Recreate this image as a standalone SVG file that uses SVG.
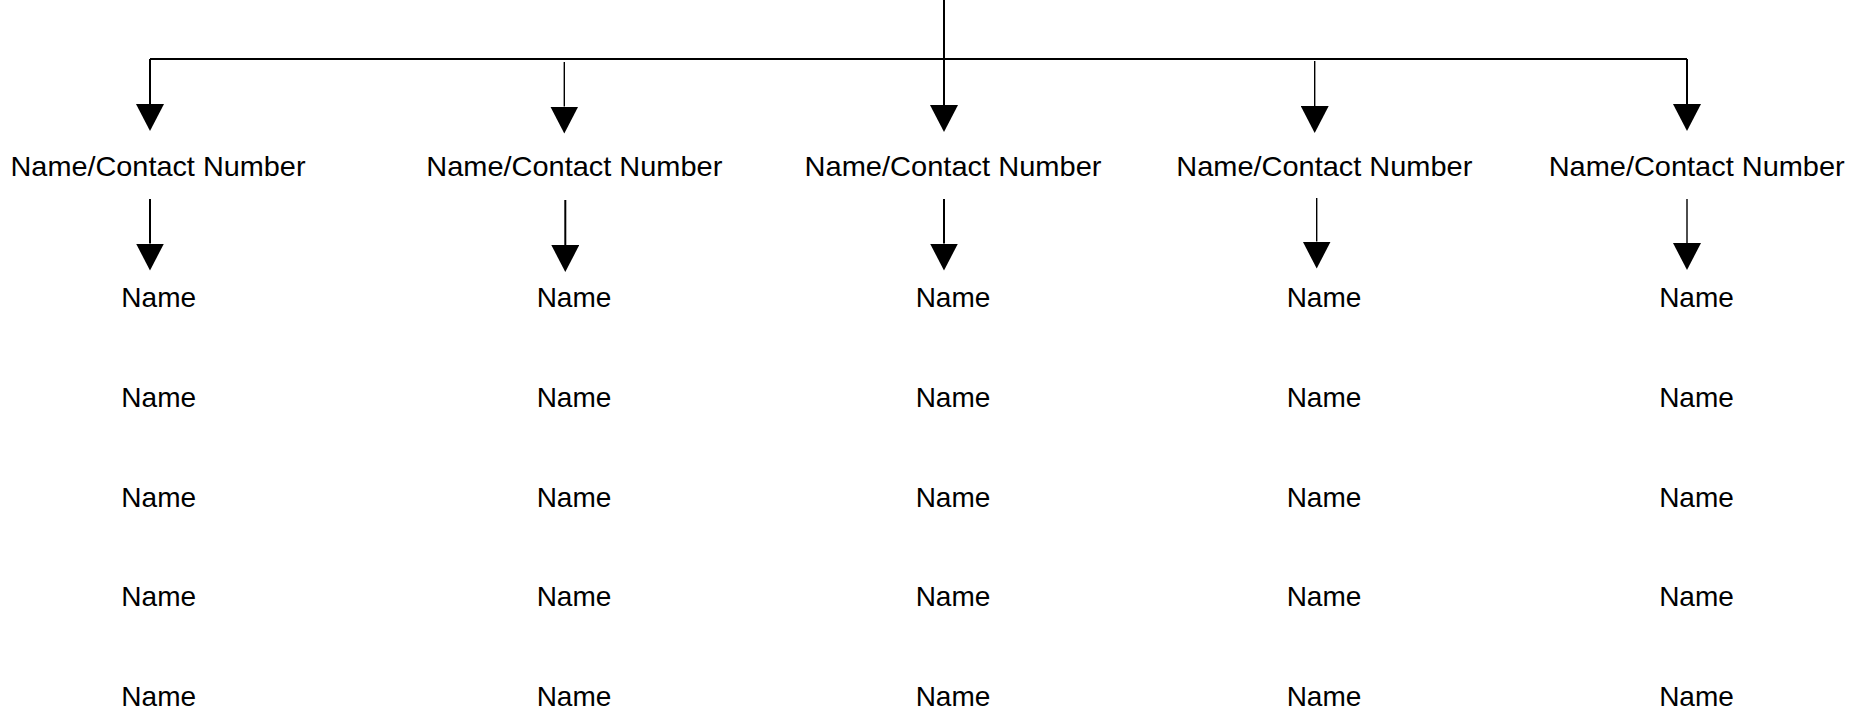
<svg xmlns="http://www.w3.org/2000/svg" width="1874" height="715" viewBox="0 0 1874 715">
<style>
.t{font-family:"Liberation Sans",Arial,sans-serif;font-size:28px;fill:#000;text-anchor:middle}
.c{fill:none;stroke:#000;stroke-width:2}
.th{stroke-width:1.4}
</style>
<defs>
<marker id="ah" markerUnits="userSpaceOnUse" markerWidth="27" markerHeight="28" refX="0" refY="14" orient="auto" viewBox="0 0 27 28">
<path d="M0,0 L27,14 L0,28 Z" fill="#000"/>
</marker>
</defs>
<rect width="1874" height="715" fill="#fff"/>
<g id="connectors">
<path class="c" d="M944,0 V105" marker-end="url(#ah)"/>
<path class="c" d="M150,59 H1687"/>
<path class="c" d="M150,59 V104" marker-end="url(#ah)"/>
<path class="c th" d="M564.3,62 V106.5" marker-end="url(#ah)"/>
<path class="c th" d="M1314.7,61 V106" marker-end="url(#ah)"/>
<path class="c" d="M1687,59 V104" marker-end="url(#ah)"/>
<path class="c" d="M150,199 V243.5" marker-end="url(#ah)"/>
<path class="c" d="M565.3,200 V245" marker-end="url(#ah)"/>
<path class="c" d="M944,199 V243.5" marker-end="url(#ah)"/>
<path class="c th" d="M1316.7,198 V241.5" marker-end="url(#ah)"/>
<path class="c th" d="M1687,199 V243" marker-end="url(#ah)"/>
</g>
<g id="contact1"><text class="t" x="158" y="176" textLength="295" lengthAdjust="spacingAndGlyphs">Name/Contact Number</text></g>
<g id="contact2"><text class="t" x="574.3" y="176" textLength="296" lengthAdjust="spacingAndGlyphs">Name/Contact Number</text></g>
<g id="contact3"><text class="t" x="953" y="176" textLength="297" lengthAdjust="spacingAndGlyphs">Name/Contact Number</text></g>
<g id="contact4"><text class="t" x="1324.3" y="176" textLength="296" lengthAdjust="spacingAndGlyphs">Name/Contact Number</text></g>
<g id="contact5"><text class="t" x="1696.7" y="176" textLength="296" lengthAdjust="spacingAndGlyphs">Name/Contact Number</text></g>
<g id="c1-names">
<g id="c1-n1"><text class="t" x="158.7" y="306.5">Name</text></g>
<g id="c1-n2"><text class="t" x="158.7" y="406.5">Name</text></g>
<g id="c1-n3"><text class="t" x="158.7" y="506.5">Name</text></g>
<g id="c1-n4"><text class="t" x="158.7" y="606">Name</text></g>
<g id="c1-n5"><text class="t" x="158.7" y="705.5">Name</text></g>
</g>
<g id="c2-names">
<g id="c2-n1"><text class="t" x="574" y="306.5">Name</text></g>
<g id="c2-n2"><text class="t" x="574" y="406.5">Name</text></g>
<g id="c2-n3"><text class="t" x="574" y="506.5">Name</text></g>
<g id="c2-n4"><text class="t" x="574" y="606">Name</text></g>
<g id="c2-n5"><text class="t" x="574" y="705.5">Name</text></g>
</g>
<g id="c3-names">
<g id="c3-n1"><text class="t" x="953" y="306.5">Name</text></g>
<g id="c3-n2"><text class="t" x="953" y="406.5">Name</text></g>
<g id="c3-n3"><text class="t" x="953" y="506.5">Name</text></g>
<g id="c3-n4"><text class="t" x="953" y="606">Name</text></g>
<g id="c3-n5"><text class="t" x="953" y="705.5">Name</text></g>
</g>
<g id="c4-names">
<g id="c4-n1"><text class="t" x="1324" y="306.5">Name</text></g>
<g id="c4-n2"><text class="t" x="1324" y="406.5">Name</text></g>
<g id="c4-n3"><text class="t" x="1324" y="506.5">Name</text></g>
<g id="c4-n4"><text class="t" x="1324" y="606">Name</text></g>
<g id="c4-n5"><text class="t" x="1324" y="705.5">Name</text></g>
</g>
<g id="c5-names">
<g id="c5-n1"><text class="t" x="1696.5" y="306.5">Name</text></g>
<g id="c5-n2"><text class="t" x="1696.5" y="406.5">Name</text></g>
<g id="c5-n3"><text class="t" x="1696.5" y="506.5">Name</text></g>
<g id="c5-n4"><text class="t" x="1696.5" y="606">Name</text></g>
<g id="c5-n5"><text class="t" x="1696.5" y="705.5">Name</text></g>
</g>
</svg>
